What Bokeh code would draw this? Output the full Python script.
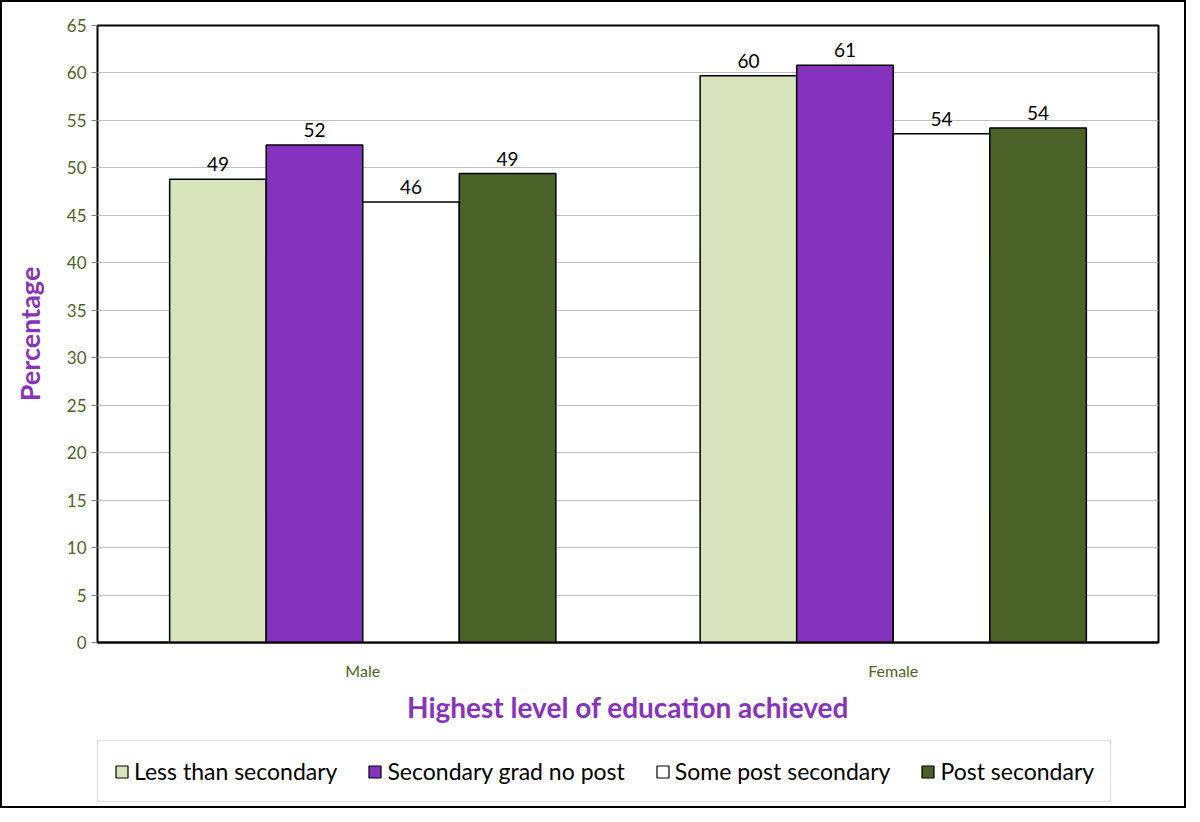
from bokeh.plotting import figure
from bokeh.layouts import column
from bokeh.models import ColumnDataSource, FactorRange, Legend, LegendItem, LabelSet, SingleIntervalTicker
from bokeh.transform import dodge
from bokeh.core.properties import value
from bokeh.embed import file_html
from bokeh.resources import INLINE

genders = ["Male", "Female"]
series_names = ["Less than secondary", "Secondary grad no post", "Some post secondary", "Post secondary"]
less_than_secondary = [48.8, 59.7]
secondary_grad = [52.4, 60.8]
some_post = [46.4, 53.6]
post_secondary = [49.4, 54.2]
colors = ["#d8e4bc", "#8533bf", "#ffffff", "#4a6228"]

FONT = "Lato"
TICK_COLOR = "#4f6228"
PURPLE = "#8833bb"

W = 1182
p = figure(x_range=FactorRange(*genders, range_padding=0), y_range=(0, 65),
           width=W, height=738, output_backend="svg", toolbar_location=None,
           min_border_left=95, min_border_top=23, min_border_right=26, min_border_bottom=98)

data = dict(g=genders, s0=less_than_secondary, s1=secondary_grad, s2=some_post, s3=post_secondary)
for k in ["s0", "s1", "s2", "s3"]:
    data["l" + k] = [f"{v:.0f}" for v in data[k]]
src = ColumnDataSource(data)

offsets = [-0.273, -0.091, 0.091, 0.273]
bw = 0.182
for i, k in enumerate(["s0", "s1", "s2", "s3"]):
    p.vbar(x=dodge("g", offsets[i], range=p.x_range), top=k, width=bw, source=src,
           fill_color=colors[i], line_color="black", line_width=1.5)
    lab = LabelSet(x=dodge("g", offsets[i], range=p.x_range), y=k, text="l" + k, source=src,
                   text_align="center", text_baseline="bottom", y_offset=8,
                   text_font=value(FONT), text_font_size="19px", text_color="black")
    p.add_layout(lab)

p.outline_line_color = "black"
p.outline_line_width = 2
p.xgrid.grid_line_color = None
p.ygrid.grid_line_color = "#bfbfbf"
p.ygrid.grid_line_width = 1

p.yaxis.ticker = SingleIntervalTicker(interval=5)
p.yaxis.axis_label = "Percentage"
p.yaxis.axis_label_text_font = FONT
p.yaxis.axis_label_text_font_size = "27px"
p.yaxis.axis_label_text_font_style = "bold"
p.yaxis.axis_label_text_color = PURPLE
p.yaxis.axis_label_standoff = 18
p.yaxis.major_label_text_font = FONT
p.yaxis.major_label_text_font_size = "17px"
p.yaxis.major_label_text_color = TICK_COLOR
p.yaxis.major_tick_out = 6
p.yaxis.major_tick_in = 0
p.yaxis.minor_tick_line_color = None
p.yaxis.axis_line_color = "black"
p.yaxis.major_tick_line_color = "#808080"

p.xaxis.axis_label = "Highest level of education achieved"
p.xaxis.axis_label_text_font = FONT
p.xaxis.axis_label_text_font_size = "28px"
p.xaxis.axis_label_text_font_style = "bold"
p.xaxis.axis_label_text_color = PURPLE
p.xaxis.axis_label_standoff = 7
p.xaxis.major_label_text_font = FONT
p.xaxis.major_label_text_font_size = "16px"
p.xaxis.major_label_text_color = TICK_COLOR
p.xaxis.major_label_standoff = 12
p.xaxis.major_tick_line_color = None
p.xaxis.axis_line_color = "black"
p.xaxis.axis_line_width = 2

# legend strip (its frame is aligned with the main frame by the column layout)
lf = figure(width=W, height=66, output_backend="svg", toolbar_location=None,
            x_axis_location=None, y_axis_location=None,
            min_border_left=0, min_border_right=0, min_border_top=0, min_border_bottom=0,
            x_range=(0, 1), y_range=(0, 1))
lf.grid.visible = False
lf.outline_line_color = None
leg_src = ColumnDataSource(dict(x=[-5], top=[-5]))
leg_renderers = []
for i in range(4):
    r = lf.vbar(x="x", top="top", width=0.1, source=leg_src,
                fill_color=colors[i], line_color="black", line_width=1.2)
    leg_renderers.append(r)
legend = Legend(items=[LegendItem(label=series_names[i], renderers=[leg_renderers[i]]) for i in range(4)],
                orientation="horizontal", location=(0, 4),
                label_text_font=FONT, label_text_font_size="23px", label_text_color="black",
                glyph_width=15, glyph_height=15, spacing=30, padding=16, margin=0,
                label_standoff=5,
                border_line_color="#c0c0c0", border_line_width=1)
lf.add_layout(legend)

layout = column(p, lf, spacing=0, styles={"border": "2px solid black"})

open("out.html", "w").write(file_html(layout, INLINE))
